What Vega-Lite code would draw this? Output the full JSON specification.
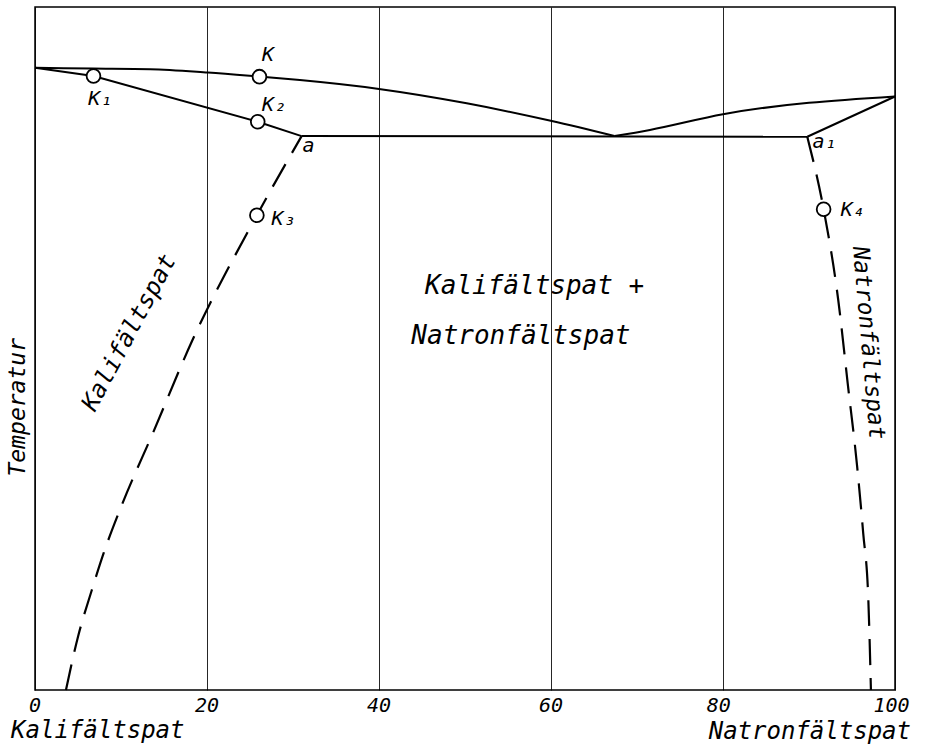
{
  "$schema": "https://vega.github.io/schema/vega-lite/v6.json",
  "width": 860,
  "height": 683,
  "autosize": {"type": "none"},
  "padding": {"left": 35, "top": 7, "right": 32, "bottom": 61},
  "background": "white",
  "config": {
    "view": {"stroke": "black", "strokeWidth": 1.5},
    "font": "DejaVu Sans Mono",
    "axisX": {"labels": false, "ticks": false, "domain": false, "grid": true, "gridColor": "black", "gridWidth": 1, "gridOpacity": 0.85}
  },
  "datasets": {
    "smooth": [
      {"seg": "liquidusK", "x": 0, "y": 91.1},
      {"seg": "liquidusK", "x": 6.7, "y": 91.0},
      {"seg": "liquidusK", "x": 13.4, "y": 90.9},
      {"seg": "liquidusK", "x": 20.1, "y": 90.4},
      {"seg": "liquidusK", "x": 26.1, "y": 89.8},
      {"seg": "liquidusK", "x": 30.8, "y": 89.3},
      {"seg": "liquidusK", "x": 40, "y": 88.0},
      {"seg": "liquidusK", "x": 50.2, "y": 85.9},
      {"seg": "liquidusK", "x": 60.1, "y": 83.3},
      {"seg": "liquidusK", "x": 67.4, "y": 81.1},
      {"seg": "liquidusN", "x": 67.4, "y": 81.1},
      {"seg": "liquidusN", "x": 71.5, "y": 82.0},
      {"seg": "liquidusN", "x": 80, "y": 84.3},
      {"seg": "liquidusN", "x": 100, "y": 86.9}
    ],
    "solid": [
      {"seg": "solidusK", "x": 0, "y": 91.1},
      {"seg": "solidusK", "x": 6.8, "y": 89.9},
      {"seg": "solidusK", "x": 25.9, "y": 83.2},
      {"seg": "solidusK", "x": 31.0, "y": 81.1},
      {"seg": "eutectic", "x": 31.0, "y": 81.1},
      {"seg": "eutectic", "x": 89.8, "y": 81.0},
      {"seg": "solidusN", "x": 89.8, "y": 81.0},
      {"seg": "solidusN", "x": 100, "y": 86.9}
    ],
    "dashed": [
      {"seg": "solvusK", "x": 31.0, "y": 81.1},
      {"seg": "solvusK", "x": 25.8, "y": 69.5},
      {"seg": "solvusK", "x": 18.3, "y": 51.2},
      {"seg": "solvusK", "x": 13.7, "y": 37.6},
      {"seg": "solvusK", "x": 10.1, "y": 27.1},
      {"seg": "solvusK", "x": 8.0, "y": 20.1},
      {"seg": "solvusK", "x": 6.6, "y": 14.6},
      {"seg": "solvusK", "x": 5.0, "y": 7.8},
      {"seg": "solvusK", "x": 3.6, "y": 0},
      {"seg": "solvusN", "x": 89.8, "y": 81.0},
      {"seg": "solvusN", "x": 91.7, "y": 70.4},
      {"seg": "solvusN", "x": 93.4, "y": 57.1},
      {"seg": "solvusN", "x": 94.5, "y": 44.9},
      {"seg": "solvusN", "x": 95.6, "y": 32.7},
      {"seg": "solvusN", "x": 96.3, "y": 23.0},
      {"seg": "solvusN", "x": 96.9, "y": 13.2},
      {"seg": "solvusN", "x": 97.2, "y": 0}
    ],
    "points": [
      {"name": "K", "x": 26.1, "y": 89.8},
      {"name": "K1", "x": 6.8, "y": 89.9},
      {"name": "K2", "x": 25.9, "y": 83.2},
      {"name": "K3", "x": 25.8, "y": 69.5},
      {"name": "K4", "x": 91.7, "y": 70.4}
    ],
    "pointLabels": [
      {"label": "K", "x": 27.1, "y": 93.0},
      {"label": "K₁", "x": 7.6, "y": 86.6},
      {"label": "K₂", "x": 27.8, "y": 85.6},
      {"label": "K₃", "x": 28.9, "y": 68.9},
      {"label": "a", "x": 31.8, "y": 79.6},
      {"label": "a₁", "x": 91.8, "y": 80.2},
      {"label": "K₄", "x": 95.1, "y": 70.3}
    ],
    "tickLabels": [
      {"label": "0", "x": 0, "y": -2.4},
      {"label": "20", "x": 20, "y": -2.4},
      {"label": "40", "x": 40, "y": -2.4},
      {"label": "60", "x": 60, "y": -2.4},
      {"label": "80", "x": 79.5, "y": -2.4},
      {"label": "100", "x": 99.6, "y": -2.4}
    ],
    "regionLabels": [
      {"label": "Kalifältspat +", "x": 58.1, "y": 59.2},
      {"label": "Natronfältspat", "x": 56.5, "y": 51.8}
    ],
    "leftLabel": [{"label": "Kalifältspat", "x": 11.0, "y": 52.3}],
    "rightLabel": [{"label": "Natronfältspat", "x": 96.9, "y": 50.8}],
    "axisLabel": [{"label": "Temperatur", "x": -2.0, "y": 41.4}],
    "endLabels": [
      {"label": "Kalifältspat", "x": 7.3, "y": -6.0},
      {"label": "Natronfältspat", "x": 90.1, "y": -6.2}
    ]
  },
  "layer": [
    {
      "data": {"name": "smooth"},
      "mark": {"type": "line", "color": "black", "strokeWidth": 2, "interpolate": "monotone"},
      "encoding": {
        "x": {"field": "x", "type": "quantitative", "scale": {"domain": [0, 100], "nice": false},
          "axis": {"values": [0, 20, 40, 60, 80, 100], "title": null}},
        "y": {"field": "y", "type": "quantitative", "scale": {"domain": [0, 100], "nice": false}, "axis": null},
        "detail": {"field": "seg"}
      }
    },
    {
      "data": {"name": "solid"},
      "mark": {"type": "line", "color": "black", "strokeWidth": 2},
      "encoding": {
        "x": {"field": "x", "type": "quantitative"},
        "y": {"field": "y", "type": "quantitative"},
        "detail": {"field": "seg"}
      }
    },
    {
      "data": {"name": "dashed"},
      "mark": {"type": "line", "color": "black", "strokeWidth": 2.2, "strokeDash": [26, 13], "interpolate": "monotone"},
      "encoding": {
        "x": {"field": "x", "type": "quantitative"},
        "y": {"field": "y", "type": "quantitative"},
        "detail": {"field": "seg"}
      }
    },
    {
      "data": {"name": "points"},
      "mark": {"type": "point", "shape": "circle", "size": 190, "filled": false, "fill": "white", "fillOpacity": 1, "stroke": "black", "strokeWidth": 1.8, "opacity": 1},
      "encoding": {
        "x": {"field": "x", "type": "quantitative"},
        "y": {"field": "y", "type": "quantitative"}
      }
    },
    {
      "data": {"name": "pointLabels"},
      "mark": {"type": "text", "font": "DejaVu Sans Mono", "fontStyle": "oblique", "fontSize": 20, "align": "center", "baseline": "middle", "color": "black"},
      "encoding": {
        "x": {"field": "x", "type": "quantitative"},
        "y": {"field": "y", "type": "quantitative"},
        "text": {"field": "label"}
      }
    },
    {
      "data": {"name": "tickLabels"},
      "mark": {"type": "text", "font": "DejaVu Sans Mono", "fontStyle": "oblique", "fontSize": 20, "align": "center", "baseline": "middle", "color": "black", "clip": false},
      "encoding": {
        "x": {"field": "x", "type": "quantitative"},
        "y": {"field": "y", "type": "quantitative"},
        "text": {"field": "label"}
      }
    },
    {
      "data": {"name": "regionLabels"},
      "mark": {"type": "text", "font": "DejaVu Sans Mono", "fontStyle": "oblique", "fontSize": 26, "align": "center", "baseline": "middle", "color": "black"},
      "encoding": {
        "x": {"field": "x", "type": "quantitative"},
        "y": {"field": "y", "type": "quantitative"},
        "text": {"field": "label"}
      }
    },
    {
      "data": {"name": "leftLabel"},
      "mark": {"type": "text", "font": "DejaVu Sans Mono", "fontStyle": "oblique", "fontSize": 24, "align": "center", "baseline": "middle", "angle": -62, "color": "black"},
      "encoding": {
        "x": {"field": "x", "type": "quantitative"},
        "y": {"field": "y", "type": "quantitative"},
        "text": {"field": "label"}
      }
    },
    {
      "data": {"name": "rightLabel"},
      "mark": {"type": "text", "font": "DejaVu Sans Mono", "fontStyle": "oblique", "fontSize": 23, "align": "center", "baseline": "middle", "angle": 85, "color": "black"},
      "encoding": {
        "x": {"field": "x", "type": "quantitative"},
        "y": {"field": "y", "type": "quantitative"},
        "text": {"field": "label"}
      }
    },
    {
      "data": {"name": "axisLabel"},
      "mark": {"type": "text", "font": "DejaVu Sans Mono", "fontStyle": "oblique", "fontSize": 23, "align": "center", "baseline": "middle", "angle": -90, "color": "black", "clip": false},
      "encoding": {
        "x": {"field": "x", "type": "quantitative"},
        "y": {"field": "y", "type": "quantitative"},
        "text": {"field": "label"}
      }
    },
    {
      "data": {"name": "endLabels"},
      "mark": {"type": "text", "font": "DejaVu Sans Mono", "fontStyle": "oblique", "fontSize": 24, "align": "center", "baseline": "middle", "color": "black", "clip": false},
      "encoding": {
        "x": {"field": "x", "type": "quantitative"},
        "y": {"field": "y", "type": "quantitative"},
        "text": {"field": "label"}
      }
    }
  ]
}
